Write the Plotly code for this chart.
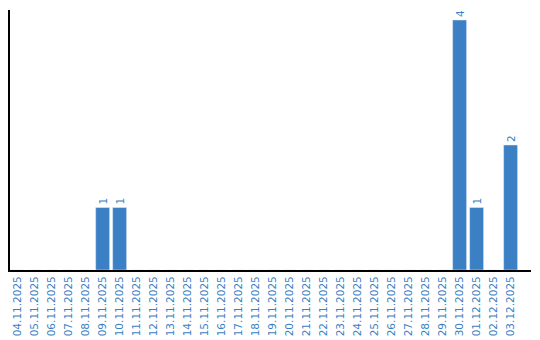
import plotly.graph_objects as go

dates = ["04.11.2025","05.11.2025","06.11.2025","07.11.2025","08.11.2025","09.11.2025",
         "10.11.2025","11.11.2025","12.11.2025","13.11.2025","14.11.2025","15.11.2025",
         "16.11.2025","17.11.2025","18.11.2025","19.11.2025","20.11.2025","21.11.2025",
         "22.11.2025","23.11.2025","24.11.2025","25.11.2025","26.11.2025","27.11.2025",
         "28.11.2025","29.11.2025","30.11.2025","01.12.2025","02.12.2025","03.12.2025"]
counts = [0,0,0,0,0,1,1,0,0,0,0,0,0,0,0,0,0,0,0,0,0,0,0,0,0,0,4,1,0,2]

blue = "#3b7fc4"
labels = [str(v) if v > 0 else "" for v in counts]

fig = go.Figure(go.Bar(
    x=list(range(len(dates))), y=counts, marker_color=blue,
    text=labels, textposition="outside", textangle=-90,
    textfont=dict(family="DejaVu Sans", size=10.5, color=blue),
    cliponaxis=False, width=0.82,
))
fig.update_layout(
    width=540, height=340, margin=dict(l=10, r=9, t=10, b=70),
    plot_bgcolor="white", paper_bgcolor="white", showlegend=False,
    xaxis=dict(tickmode="array", tickvals=list(range(len(dates))), ticktext=dates,
               tickangle=-90, range=[-0.45, 30.2], showgrid=False, zeroline=False,
               showline=True, linecolor="black", linewidth=2, ticks="",
               automargin=False,
               tickfont=dict(family="DejaVu Sans", size=10.5, color=blue)),
    yaxis=dict(range=[0, 4.16], showgrid=False, zeroline=False, showline=True,
               linecolor="black", linewidth=2, showticklabels=False, ticks="",
               automargin=False),
)
fig.write_html("out.html")
